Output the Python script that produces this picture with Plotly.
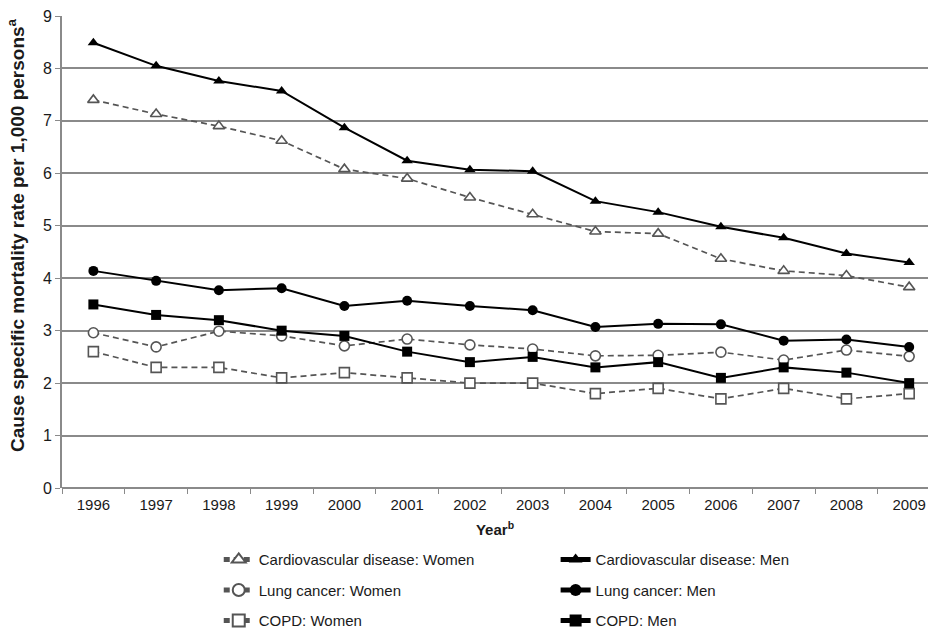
import plotly.graph_objects as go

years = ["1996", "1997", "1998", "1999", "2000", "2001", "2002", "2003", "2004", "2005", "2006", "2007", "2008", "2009"]

cvd_women = [7.40, 7.13, 6.90, 6.62, 6.08, 5.90, 5.54, 5.22, 4.89, 4.85, 4.37, 4.14, 4.05, 3.83]
cvd_men = [8.49, 8.05, 7.76, 7.57, 6.87, 6.24, 6.07, 6.04, 5.47, 5.26, 4.98, 4.77, 4.47, 4.30]
lung_women = [2.96, 2.69, 2.99, 2.90, 2.71, 2.84, 2.73, 2.65, 2.52, 2.53, 2.59, 2.44, 2.63, 2.51]
lung_men = [4.14, 3.95, 3.77, 3.81, 3.47, 3.57, 3.47, 3.39, 3.07, 3.13, 3.12, 2.81, 2.83, 2.69]
copd_women = [2.6, 2.3, 2.3, 2.1, 2.2, 2.1, 2.0, 2.0, 1.8, 1.9, 1.7, 1.9, 1.7, 1.8]
copd_men = [3.5, 3.3, 3.2, 3.0, 2.9, 2.6, 2.4, 2.5, 2.3, 2.4, 2.1, 2.3, 2.2, 2.0]

y_ticks = [0, 1, 2, 3, 4, 5, 6, 7, 8, 9]

FONT = "Liberation Sans, Arial, sans-serif"
GRID = "#8a8a8a"
TXT = "#1a1a1a"

fig = go.Figure()

def women(name, vals, sym, grp):
    fig.add_trace(go.Scatter(
        x=years, y=vals, name=name, mode="lines+markers",
        line=dict(color="#555555", width=1.7, dash="6px,4px"),
        marker=dict(symbol=sym, size=10, color="white",
                    line=dict(color="#555555", width=1.6)),
        legend="legend", legendgroup=grp,
    ))

def men(name, vals, sym, grp):
    fig.add_trace(go.Scatter(
        x=years, y=vals, name=name, mode="lines+markers",
        line=dict(color="#000000", width=2),
        marker=dict(symbol=sym, size=10, color="#000000"),
        legend="legend2", legendgroup=grp,
    ))

women("Cardiovascular disease: Women", cvd_women, "triangle-up", "a")
men("Cardiovascular disease: Men", cvd_men, "triangle-up", "d")
women("Lung cancer: Women", lung_women, "circle", "b")
men("Lung cancer: Men", lung_men, "circle", "e")
women("COPD: Women", copd_women, "square", "c")
men("COPD: Men", copd_men, "square", "f")

legend_common = dict(
    orientation="v", yanchor="top", xanchor="left",
    bgcolor="rgba(0,0,0,0)", font=dict(family=FONT, size=15, color=TXT),
    tracegroupgap=8, itemsizing="constant",
)

fig.update_layout(
    width=928, height=650,
    margin=dict(l=62, r=0, t=16, b=162),
    paper_bgcolor="white", plot_bgcolor="white",
    font=dict(family=FONT, size=14, color=TXT),
    showlegend=True,
    legend=dict(x=0.181, y=-0.117, **legend_common),
    legend2=dict(x=0.570, y=-0.117, **legend_common),
    xaxis=dict(
        type="category", range=[-0.5, 13.3], automargin=False,
        showgrid=False, ticks="outside", tickson="boundaries",
        ticklen=5, tickcolor=GRID, tickwidth=1, ticklabelstandoff=6,
        showline=False, zeroline=False,
        tickfont=dict(family=FONT, size=15, color=TXT),
        title=dict(text="<b>Year<sup>b</sup></b>", font=dict(family=FONT, size=15, color=TXT), standoff=12),
    ),
    yaxis=dict(
        range=[0, 9], tickvals=y_ticks, ticktext=[str(v) for v in y_ticks], automargin=False,
        showgrid=True, gridcolor=GRID, gridwidth=1.6,
        zeroline=True, zerolinecolor=GRID, zerolinewidth=1.6,
        showline=True, linecolor=GRID, linewidth=1.6,
        ticks="outside", ticklen=5, tickcolor=GRID, tickwidth=1,
        tickfont=dict(family=FONT, size=16, color=TXT),
    ),
    annotations=[dict(
        text="<b>Cause specific mortality rate per 1,000 persons<sup>a</sup></b>",
        xref="paper", yref="paper", x=-0.0531, y=0.536,
        xanchor="center", yanchor="middle", textangle=-90, showarrow=False,
        font=dict(family=FONT, size=19, color=TXT),
    )],
)

fig.write_html(
    "out.html",
    config={"displayModeBar": False},
    post_script="document.body.style.margin='0';document.body.style.overflow='hidden';document.documentElement.style.overflow='hidden';",
)
